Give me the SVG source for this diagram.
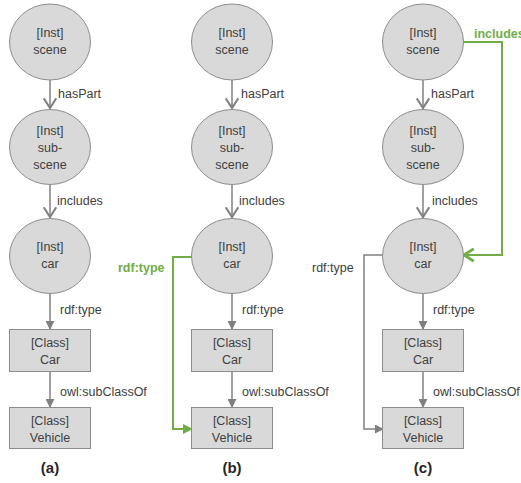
<svg xmlns="http://www.w3.org/2000/svg" width="521" height="483" viewBox="0 0 521 483">
<defs>
<style>
.node ellipse,.node rect{fill:#d9d9d9;stroke:#8c8c8c;stroke-width:1}
.nt{font-family:"Liberation Sans",Arial,sans-serif;font-size:12.5px;fill:#404040;text-anchor:middle}
.lbl{font-family:"Liberation Sans",Arial,sans-serif;font-size:12.5px;fill:#404040}
.glbl{font-family:"Liberation Sans",Arial,sans-serif;font-size:12.5px;font-weight:bold;fill:#70ad47}
.cap{font-family:"Liberation Sans",Arial,sans-serif;font-size:15px;font-weight:bold;fill:#262626;text-anchor:middle}
.e{fill:none;stroke:#808080;stroke-width:1.5}
.eo{fill:none;stroke:#808080;stroke-width:1.5;marker-end:url(#openG)}
.ef{fill:none;stroke:#808080;stroke-width:1.5;marker-end:url(#fillG)}
.gf{fill:none;stroke:#70ad47;stroke-width:2;marker-end:url(#fillGr)}
.go{fill:none;stroke:#70ad47;stroke-width:2;marker-end:url(#openGr)}
</style>
<marker id="openG" markerUnits="userSpaceOnUse" markerWidth="14" markerHeight="14" refX="8" refY="5" orient="auto" viewBox="0 0 10 10"><path d="M1,0.5 L8,5 L1,9.5" fill="none" stroke="#808080" stroke-width="1.5"/></marker>
<marker id="fillG" markerUnits="userSpaceOnUse" markerWidth="9" markerHeight="9" refX="9" refY="5" orient="auto" viewBox="0 0 10 10"><path d="M0,0 L10,5 L0,10 Z" fill="#808080"/></marker>
<marker id="fillGr" markerUnits="userSpaceOnUse" markerWidth="10" markerHeight="10" refX="9" refY="5" orient="auto" viewBox="0 0 10 10"><path d="M0,0 L10,5 L0,10 Z" fill="#70ad47"/></marker>
<marker id="openGr" markerUnits="userSpaceOnUse" markerWidth="14" markerHeight="14" refX="8" refY="5" orient="auto" viewBox="0 0 10 10"><path d="M1,0.5 L8,5 L1,9.5" fill="none" stroke="#70ad47" stroke-width="2"/></marker>
</defs>

<g id="connectors">
<!-- panel a -->
<line class="eo" x1="50" y1="80" x2="50" y2="108"/>
<line class="eo" x1="50" y1="185" x2="50" y2="217"/>
<line class="ef" x1="50" y1="294" x2="50" y2="329"/>
<line class="ef" x1="50" y1="371" x2="50" y2="407"/>
<!-- panel b -->
<line class="eo" x1="232" y1="80" x2="232" y2="108"/>
<line class="eo" x1="232" y1="185" x2="232" y2="217"/>
<line class="ef" x1="232" y1="294" x2="232" y2="329"/>
<line class="ef" x1="232" y1="371" x2="232" y2="407"/>
<polyline class="gf" points="192,257 173,257 173,429 192,429"/>
<!-- panel c -->
<line class="eo" x1="423" y1="80" x2="423" y2="108"/>
<line class="eo" x1="423" y1="185" x2="423" y2="217"/>
<line class="ef" x1="423" y1="294" x2="423" y2="329"/>
<line class="ef" x1="423" y1="371" x2="423" y2="407"/>
<polyline class="ef" points="383,255 364,255 364,429 383,429"/>
<polyline class="go" points="463,42 502,42 502,255 464,255"/>
<!-- labels -->
<text class="lbl" x="58" y="98">hasPart</text>
<text class="lbl" x="57" y="205">includes</text>
<text class="lbl" x="60" y="314">rdf:type</text>
<text class="lbl" x="60" y="396">owl:subClassOf</text>
<text class="lbl" x="241" y="98">hasPart</text>
<text class="lbl" x="239" y="205">includes</text>
<text class="lbl" x="242" y="314">rdf:type</text>
<text class="lbl" x="242" y="396">owl:subClassOf</text>
<text class="glbl" x="118" y="272">rdf:type</text>
<text class="lbl" x="431" y="98">hasPart</text>
<text class="lbl" x="432" y="205">includes</text>
<text class="lbl" x="433" y="314">rdf:type</text>
<text class="lbl" x="433" y="396">owl:subClassOf</text>
<text class="lbl" x="312" y="272">rdf:type</text>
<text class="glbl" x="474" y="38">includes</text>
</g>

<g id="a-scene" class="node"><ellipse cx="50" cy="42" rx="40.5" ry="38"/><text class="nt" x="50" y="37">[Inst]</text><text class="nt" x="50" y="54">scene</text></g>
<g id="a-subscene" class="node"><ellipse cx="50" cy="147" rx="40.5" ry="37.5"/><text class="nt" x="50" y="135">[Inst]</text><text class="nt" x="50" y="152">sub-</text><text class="nt" x="50" y="169">scene</text></g>
<g id="a-car" class="node"><ellipse cx="50" cy="256" rx="40.5" ry="37.5"/><text class="nt" x="50" y="251">[Inst]</text><text class="nt" x="50" y="268">car</text></g>
<g id="a-Car" class="node"><rect x="9.5" y="329.5" width="81" height="42"/><text class="nt" x="50" y="347">[Class]</text><text class="nt" x="50" y="364">Car</text></g>
<g id="a-Vehicle" class="node"><rect x="9.5" y="407.5" width="81" height="41"/><text class="nt" x="50" y="425">[Class]</text><text class="nt" x="50" y="442">Vehicle</text></g>

<g id="b-scene" class="node"><ellipse cx="232" cy="42" rx="40.5" ry="38"/><text class="nt" x="232" y="37">[Inst]</text><text class="nt" x="232" y="54">scene</text></g>
<g id="b-subscene" class="node"><ellipse cx="232" cy="147" rx="40.5" ry="37.5"/><text class="nt" x="232" y="135">[Inst]</text><text class="nt" x="232" y="152">sub-</text><text class="nt" x="232" y="169">scene</text></g>
<g id="b-car" class="node"><ellipse cx="232" cy="256" rx="40.5" ry="37.5"/><text class="nt" x="232" y="251">[Inst]</text><text class="nt" x="232" y="268">car</text></g>
<g id="b-Car" class="node"><rect x="191.5" y="329.5" width="81" height="42"/><text class="nt" x="232" y="347">[Class]</text><text class="nt" x="232" y="364">Car</text></g>
<g id="b-Vehicle" class="node"><rect x="191.5" y="407.5" width="81" height="41"/><text class="nt" x="232" y="425">[Class]</text><text class="nt" x="232" y="442">Vehicle</text></g>

<g id="c-scene" class="node"><ellipse cx="423" cy="42" rx="40.5" ry="38"/><text class="nt" x="423" y="37">[Inst]</text><text class="nt" x="423" y="54">scene</text></g>
<g id="c-subscene" class="node"><ellipse cx="423" cy="147" rx="40.5" ry="37.5"/><text class="nt" x="423" y="135">[Inst]</text><text class="nt" x="423" y="152">sub-</text><text class="nt" x="423" y="169">scene</text></g>
<g id="c-car" class="node"><ellipse cx="423" cy="256" rx="40.5" ry="37.5"/><text class="nt" x="423" y="251">[Inst]</text><text class="nt" x="423" y="268">car</text></g>
<g id="c-Car" class="node"><rect x="382.5" y="329.5" width="81" height="42"/><text class="nt" x="423" y="347">[Class]</text><text class="nt" x="423" y="364">Car</text></g>
<g id="c-Vehicle" class="node"><rect x="382.5" y="407.5" width="81" height="41"/><text class="nt" x="423" y="425">[Class]</text><text class="nt" x="423" y="442">Vehicle</text></g>

<g id="captions">
<text class="cap" x="50" y="473">(a)</text>
<text class="cap" x="232" y="473">(b)</text>
<text class="cap" x="423" y="473">(c)</text>
</g>
</svg>
